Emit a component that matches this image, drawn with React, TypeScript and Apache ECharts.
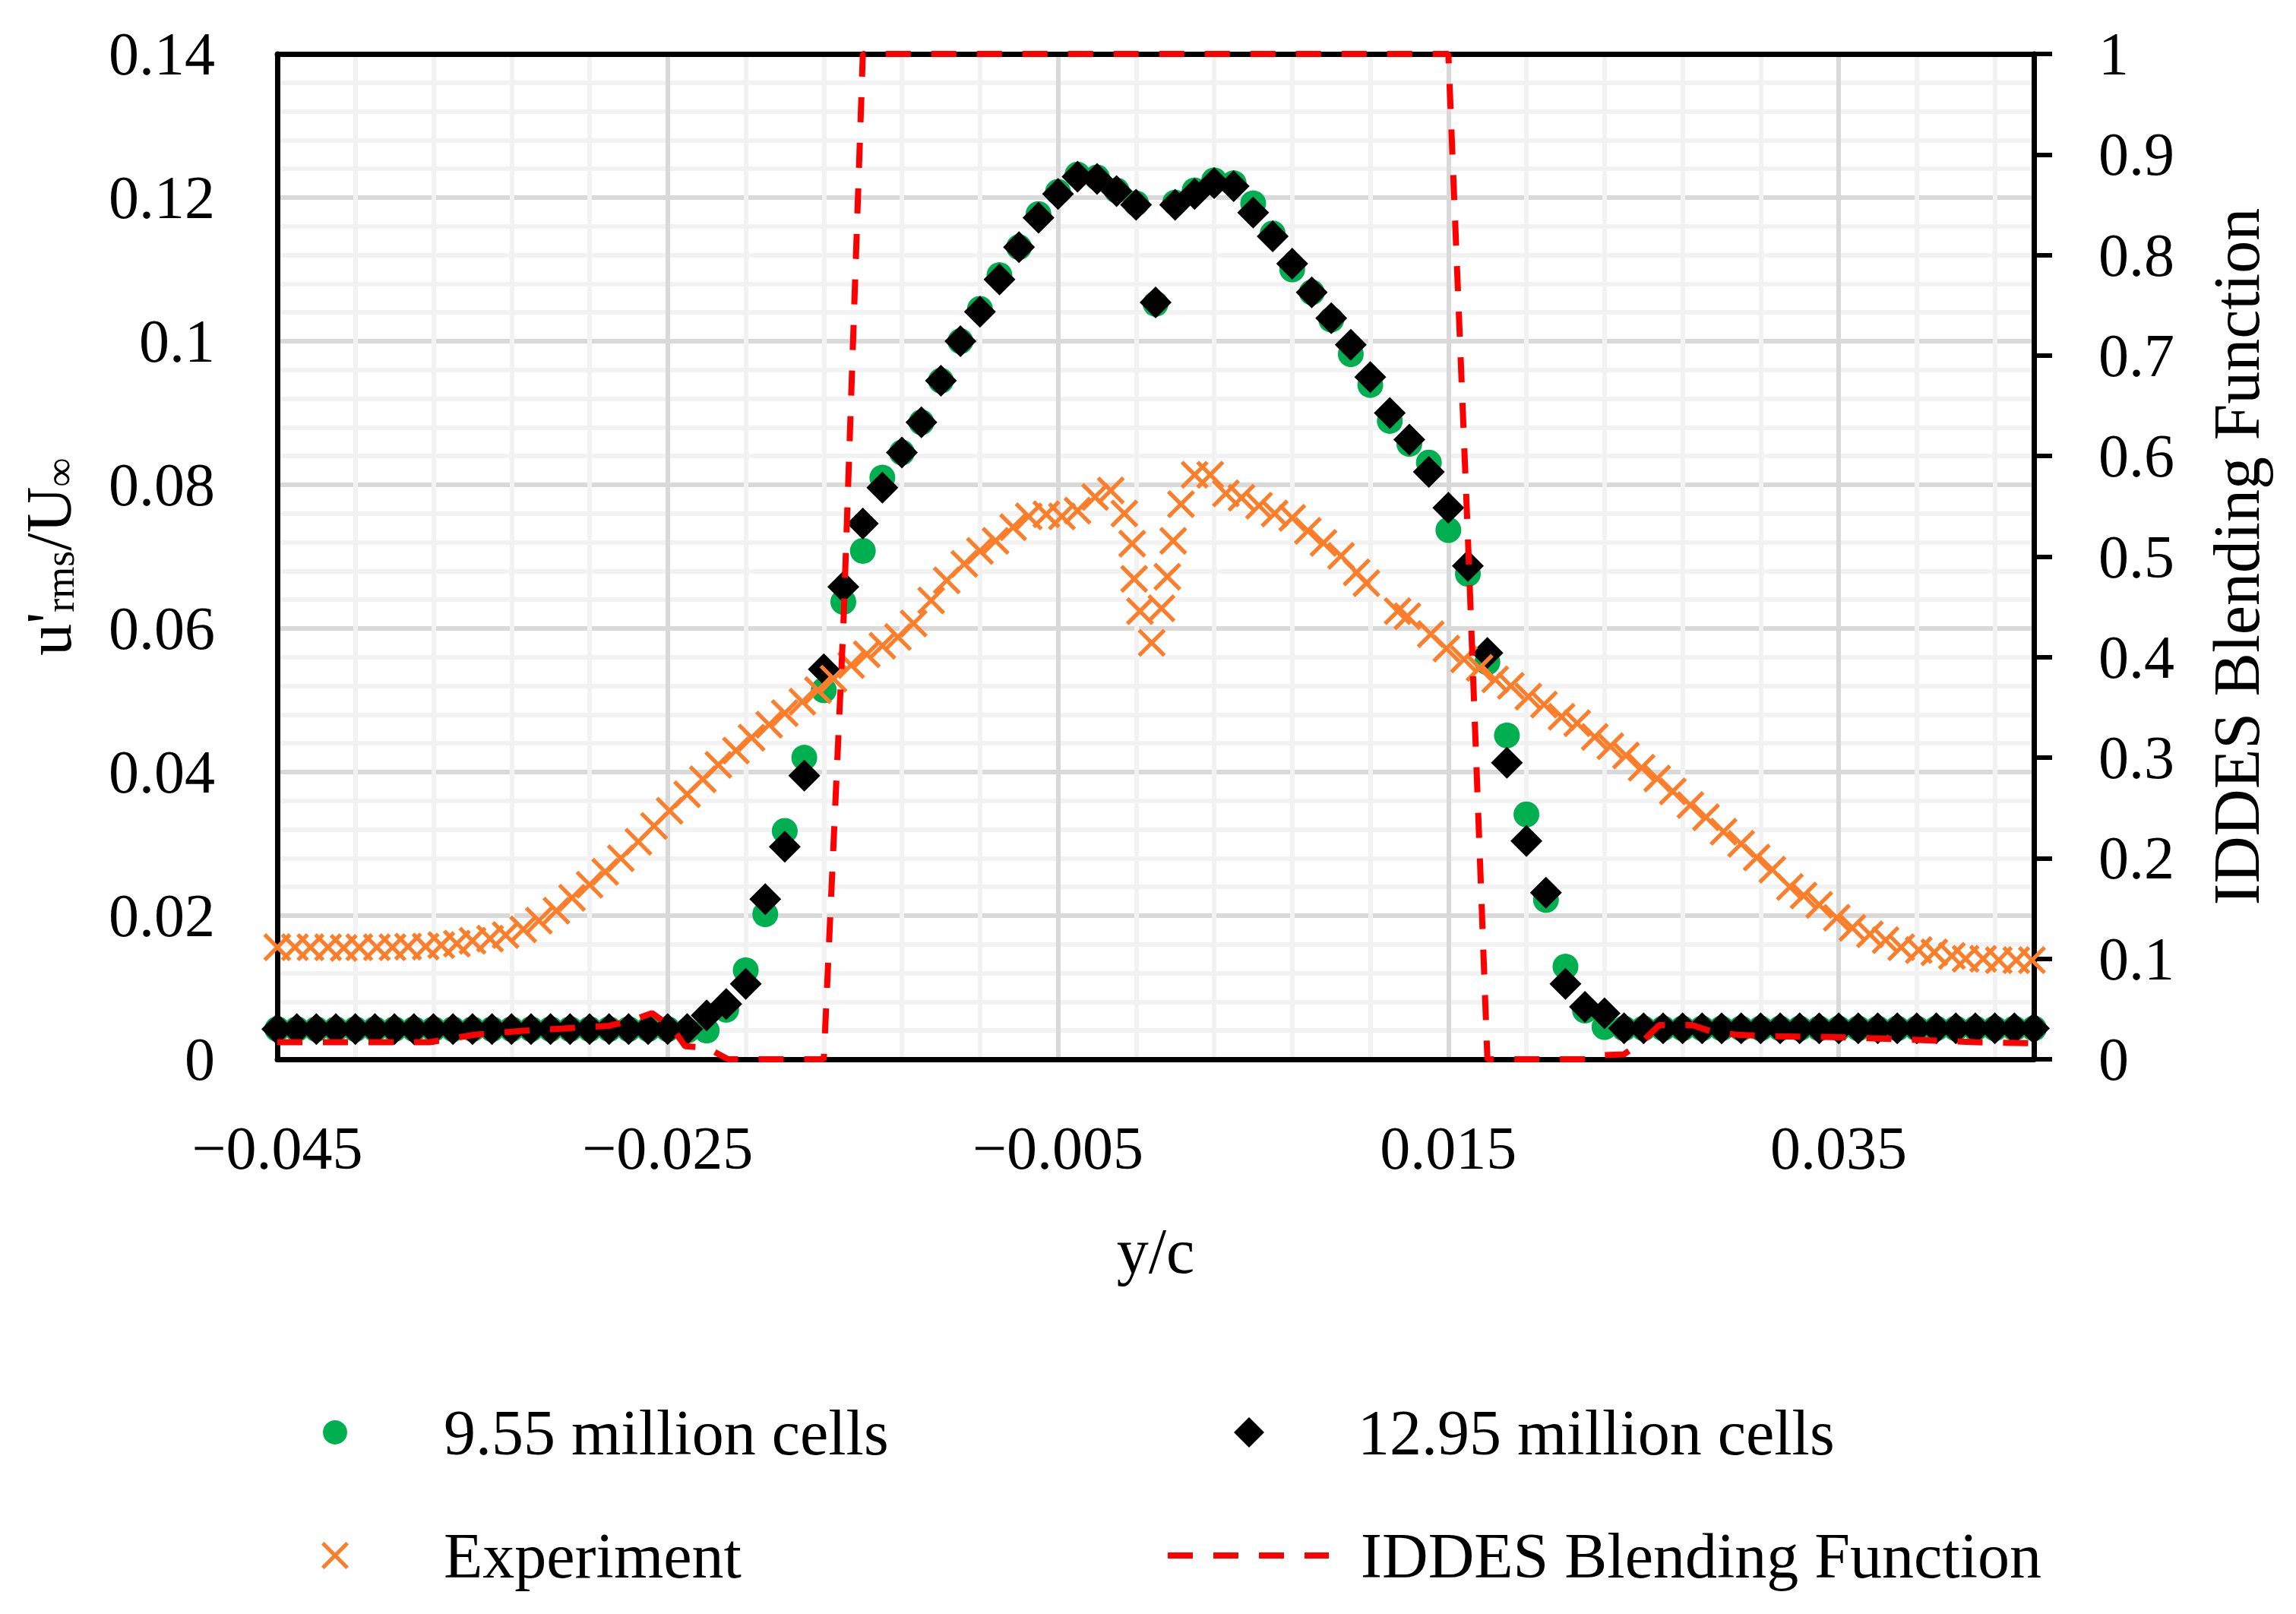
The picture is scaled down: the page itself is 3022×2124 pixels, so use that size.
import React, { useEffect, useRef } from "react";
import * as echarts from "echarts";

const FONT = '"Liberation Serif", "Times New Roman", Times, serif';

// ---- data ----
const simX = [
  -0.045, -0.044, -0.043, -0.042, -0.041, -0.04, -0.039, -0.038, -0.037, -0.036,
  -0.035, -0.034, -0.033, -0.032, -0.031, -0.03, -0.029, -0.028, -0.027, -0.026,
  -0.025, -0.024, -0.023, -0.022, -0.021, -0.02, -0.019, -0.018, -0.017, -0.016,
  -0.015, -0.014, -0.013, -0.012, -0.011, -0.01, -0.009, -0.008, -0.007, -0.006,
  -0.005, -0.004, -0.003, -0.002, -0.001, 0, 0.001, 0.002, 0.003, 0.004,
  0.005, 0.006, 0.007, 0.008, 0.009, 0.01, 0.011, 0.012, 0.013, 0.014,
  0.015, 0.016, 0.017, 0.018, 0.019, 0.02, 0.021, 0.022, 0.023, 0.024,
  0.025, 0.026, 0.027, 0.028, 0.029, 0.03, 0.031, 0.032, 0.033, 0.034,
  0.035, 0.036, 0.037, 0.038, 0.039, 0.04, 0.041, 0.042, 0.043, 0.044, 0.045,
];

const cells955 = [
  0.0042, 0.0042, 0.0042, 0.0042, 0.0042, 0.0042, 0.0042, 0.0042, 0.0042, 0.0042,
  0.0042, 0.0042, 0.0042, 0.0042, 0.0042, 0.0042, 0.0042, 0.0042, 0.0042, 0.0042,
  0.0042,
  0.004, 0.004, 0.0069, 0.0124, 0.0202, 0.0318, 0.042, 0.0514, 0.0637, 0.0708,
  0.081, 0.0845, 0.0887, 0.0945, 0.1, 0.1045, 0.1092, 0.1131, 0.1177, 0.1208,
  0.1232, 0.1228, 0.121, 0.1192, 0.1052, 0.1193, 0.121, 0.1224, 0.122, 0.1192,
  0.115, 0.11, 0.1068, 0.103, 0.0982, 0.0939, 0.0889, 0.0857, 0.0831, 0.0737,
  0.0676, 0.0553, 0.0451, 0.0341, 0.0222, 0.0129, 0.0068, 0.0045,
  0.0043, 0.0043, 0.0043, 0.0043, 0.0043, 0.0043, 0.0043, 0.0043, 0.0043, 0.0043,
  0.0043, 0.0043, 0.0043, 0.0043, 0.0043, 0.0043, 0.0043, 0.0043, 0.0043, 0.0043,
  0.0043, 0.0043,
];

const cells1295 = [
  0.0042, 0.0042, 0.0042, 0.0042, 0.0042, 0.0042, 0.0042, 0.0042, 0.0042, 0.0042,
  0.0042, 0.0042, 0.0042, 0.0042, 0.0042, 0.0042, 0.0042, 0.0042, 0.0042, 0.0042,
  0.0042,
  0.0042, 0.0061, 0.0077, 0.0105, 0.0223, 0.0296, 0.0395, 0.0543, 0.0658, 0.0746,
  0.0796, 0.0845, 0.0887, 0.0945, 0.1, 0.1041, 0.1086, 0.1131, 0.1172, 0.1205,
  0.1229, 0.1226, 0.1209, 0.119, 0.1054, 0.119, 0.1205, 0.122, 0.1216, 0.1179,
  0.1146, 0.1108, 0.1068, 0.1032, 0.0995, 0.095, 0.09, 0.0863, 0.0818, 0.0768,
  0.0687, 0.0566, 0.0413, 0.0304, 0.0232, 0.0105, 0.0073, 0.0064,
  0.0043, 0.0043, 0.0043, 0.0043, 0.0043, 0.0043, 0.0043, 0.0043, 0.0043, 0.0043,
  0.0043, 0.0043, 0.0043, 0.0043, 0.0043, 0.0043, 0.0043, 0.0043, 0.0043, 0.0043,
  0.0043, 0.0043,
];

const expX = [
  -0.045, -0.0441, -0.0433, -0.0424, -0.0416, -0.0408, -0.0399, -0.0391, -0.0383, -0.0374,
  -0.0366, -0.0358, -0.035, -0.0341, -0.0333, -0.0324, -0.0316, -0.0307, -0.0299, -0.029,
  -0.0282, -0.0274, -0.0265, -0.0257, -0.0249, -0.024, -0.0232, -0.0224, -0.0215, -0.0207,
  -0.0198, -0.019, -0.0181, -0.0173, -0.0165, -0.0156, -0.0148, -0.014, -0.0132, -0.0124,
  -0.0115, -0.0107, -0.0098, -0.009, -0.0082, -0.0073, -0.0065, -0.0056, -0.0048, -0.004,
  -0.0031, -0.0023, -0.0016, -0.0012, -0.0011, -0.0008, -0.0002, 0.0003, 0.0006, 0.0009,
  0.0013, 0.002, 0.0028, 0.0036, 0.0044, 0.0053, 0.0061, 0.007, 0.0078, 0.0086,
  0.0095, 0.0103, 0.0108, 0.0124, 0.0129, 0.0141, 0.0149, 0.0158, 0.0166, 0.0174,
  0.0182, 0.0191, 0.0199, 0.0208, 0.0216, 0.0225, 0.0233, 0.0241, 0.0249, 0.0257,
  0.0265, 0.0274, 0.0282, 0.0291, 0.03, 0.0308, 0.0316, 0.0325, 0.0332, 0.034,
  0.0349, 0.0357, 0.0366, 0.0374, 0.0382, 0.0391, 0.0399, 0.0408, 0.0415, 0.0424,
  0.0432, 0.0441, 0.0449,
];

const expY = [
  0.0156, 0.0156, 0.0156, 0.0156, 0.0155, 0.0156, 0.0156, 0.0156, 0.0157, 0.0157,
  0.0159, 0.0161, 0.0165, 0.0168, 0.0173, 0.0181, 0.0193, 0.0207, 0.0225, 0.0243,
  0.0261, 0.028, 0.0303, 0.0325, 0.0346, 0.0369, 0.039, 0.041, 0.043, 0.0448,
  0.0466, 0.0482, 0.0498, 0.0514, 0.053, 0.0549, 0.0564, 0.0576, 0.0588, 0.0607,
  0.0639, 0.0667, 0.069, 0.0708, 0.0722, 0.0741, 0.0756, 0.0759, 0.0756, 0.0764,
  0.0783, 0.0792, 0.076, 0.0718, 0.0669, 0.0624, 0.058, 0.0628, 0.0672, 0.0722,
  0.0773, 0.0814, 0.0814, 0.0788, 0.0782, 0.0771, 0.076, 0.0754, 0.0736, 0.0719,
  0.0701, 0.0678, 0.0663, 0.0624, 0.0617, 0.0592, 0.0572, 0.0557, 0.0545, 0.0529,
  0.052, 0.0505, 0.0494, 0.0477, 0.0468, 0.0449, 0.0436, 0.0423, 0.0406, 0.0391,
  0.0373, 0.0354, 0.0337, 0.0317, 0.03, 0.0281, 0.0264, 0.024, 0.0228, 0.0215,
  0.0197, 0.0183, 0.0174, 0.0166, 0.0156, 0.0152, 0.0149, 0.0144, 0.014, 0.014,
  0.0138, 0.0138, 0.0138,
];

const blendX = [
  -0.045, -0.0372, -0.0349, -0.0325, -0.0303, -0.028, -0.0268, -0.0258, -0.0248, -0.0241,
  -0.023, -0.0219, -0.017, -0.016, -0.015, 0.015, 0.016, 0.017, 0.022, 0.0227,
  0.024, 0.0249, 0.0258, 0.0275, 0.0285, 0.0297, 0.0315, 0.035, 0.038, 0.042, 0.045,
];
const blendY = [
  0.017, 0.017, 0.0244, 0.0282, 0.0307, 0.0333, 0.039, 0.046, 0.032, 0.013,
  0.0116, 0, 0, 0.43, 1, 1, 0.52, 0, 0, 0.004,
  0.005, 0.017, 0.034, 0.034, 0.0275, 0.0245, 0.023, 0.022, 0.02, 0.017, 0.016,
];

const majorXTicks = [-0.045, -0.025, -0.005, 0.015, 0.035];

const NAMES = ["9.55 million cells", "12.95 million cells", "Experiment", "IDDES Blending Function"];

const GREEN = "#00b050";
const ORANGE = "#fd7e2a";
const RED = "#ff0000";
const MAJOR = "#d9d9d9";
const MINOR = "#f2f2f2";
const NONE = "rgba(0,0,0,0)";
const DASH = [33, 27];

const X_PATH =
  "path://M0,10L10,0L50,40L90,0L100,10L60,50L100,90L90,100L50,60L10,100L0,90L40,50Z";

const formatX = (v: number) => {
  const hit = majorXTicks.find((t) => Math.abs(t - v) < 1e-7);
  if (hit === undefined) return "";
  return (hit < 0 ? "\u2212" : "") + Math.abs(hit).toFixed(3);
};

export default function App() {
  const ref = useRef<HTMLDivElement>(null);

  useEffect(() => {
    document.body.style.margin = "0";
    document.body.style.overflow = "hidden";
    const chart = echarts.init(ref.current as HTMLDivElement, null, { renderer: "svg" });

    // vertical grid colours cycle per 0.001 tick: major every 0.02, minor every 0.004
    const xGridColors: string[] = [];
    for (let k = 0; k < 20; k++) xGridColors.push(k === 0 ? MAJOR : k % 4 === 0 ? MINOR : NONE);

    const txt = { fontFamily: FONT, color: "#000" };
    const legendBase = {
      orient: "horizontal",
      padding: 0,
      itemGap: 0,
      selectedMode: false,
    };
    const legText = (pad: number) => ({ ...txt, fontSize: 84, lineHeight: 84, padding: [0, 0, 0, pad] });

    const option: any = {
      animation: false,
      backgroundColor: "#ffffff",
      textStyle: { fontFamily: FONT },
      grid: { left: 365, right: 345, top: 71, bottom: 730, containLabel: false },
      xAxis: [
        {
          type: "value",
          position: "bottom",
          min: -0.045,
          max: 0.045,
          interval: 0.001,
          axisLine: { show: true, onZero: false, lineStyle: { color: "#000", width: 7 } },
          axisTick: { show: false },
          axisLabel: { ...txt, fontSize: 80, margin: 77, formatter: formatX },
          splitLine: { show: true, lineStyle: { color: xGridColors, width: 6 } },
          name: "y/c",
          nameLocation: "middle",
          nameGap: 210,
          nameTextStyle: { ...txt, fontSize: 84, lineHeight: 84 },
        },
        {
          type: "value",
          position: "top",
          min: -0.045,
          max: 0.045,
          axisLine: { show: true, onZero: false, lineStyle: { color: "#000", width: 7 } },
          axisTick: { show: false },
          axisLabel: { show: false },
          splitLine: { show: false },
        },
      ],
      yAxis: [
        {
          type: "value",
          position: "left",
          min: 0,
          max: 0.14,
          interval: 0.02,
          axisLine: { show: true, onZero: false, lineStyle: { color: "#000", width: 7 } },
          axisTick: { show: false },
          axisLabel: { ...txt, fontSize: 80, margin: 82 },
          splitLine: { show: true, lineStyle: { color: MAJOR, width: 6 } },
          minorTick: { show: false, splitNumber: 5 },
          minorSplitLine: { show: true, lineStyle: { color: MINOR, width: 6 } },
          name: "{m|u'}{s|rms}{m|/U}{s|\u221e}",
          nameLocation: "middle",
          nameGap: 259,
          nameTextStyle: {
            ...txt,
            fontSize: 84,
            lineHeight: 84,
            rich: {
              m: { ...txt, fontSize: 84, lineHeight: 84 },
              s: { ...txt, fontSize: 54, lineHeight: 30, verticalAlign: "bottom" },
            },
          },
        },
        {
          type: "value",
          position: "right",
          min: 0,
          max: 1,
          interval: 0.1,
          axisLine: { show: true, onZero: false, lineStyle: { color: "#000", width: 7 } },
          axisTick: { show: true, inside: false, length: 24, lineStyle: { color: "#000", width: 6 } },
          axisLabel: { ...txt, fontSize: 80, margin: 85 },
          splitLine: { show: false },
          name: "IDDES Blending Function",
          nameLocation: "middle",
          nameGap: 224,
          nameTextStyle: { ...txt, fontSize: 86, lineHeight: 86 },
        },
      ],
      legend: [
        { ...legendBase, data: [NAMES[0]], left: 425, top: 1843, itemWidth: 32, itemHeight: 32, textStyle: legText(122) },
        { ...legendBase, data: [NAMES[1]], left: 1624, top: 1843, itemWidth: 40, itemHeight: 40, textStyle: legText(118) },
        { ...legendBase, data: [NAMES[2]], left: 423, top: 2005, itemWidth: 36, itemHeight: 36, textStyle: legText(120) },
        {
          ...legendBase,
          data: [NAMES[3]],
          left: 1533,
          top: 2005,
          itemWidth: 212,
          itemHeight: 20,
          itemStyle: { color: NONE, borderColor: NONE, borderWidth: 0, opacity: 0 },
          lineStyle: { color: RED, width: 8, type: DASH },
          textStyle: legText(37),
        },
      ],
      series: [
        {
          name: NAMES[0],
          type: "scatter",
          symbol: "circle",
          symbolSize: 34,
          itemStyle: { color: GREEN, opacity: 1 },
          clip: false,
          data: simX.map((x, i) => [x, cells955[i]]),
        },
        {
          name: NAMES[1],
          type: "scatter",
          symbol: "diamond",
          symbolSize: 42,
          itemStyle: { color: "#000000", opacity: 1 },
          clip: false,
          data: simX.map((x, i) => [x, cells1295[i]]),
        },
        {
          name: NAMES[2],
          type: "scatter",
          symbol: X_PATH,
          symbolSize: 37,
          itemStyle: { color: ORANGE, opacity: 1 },
          clip: false,
          data: expX.map((x, i) => [x, expY[i]]),
        },
        {
          name: NAMES[3],
          type: "line",
          yAxisIndex: 1,
          symbol: "none",
          showSymbol: false,
          clip: false,
          itemStyle: { color: RED },
          lineStyle: { color: RED, width: 8, type: DASH },
          data: blendX.map((x, i) => [x, blendY[i]]),
        },
      ],
    };

    chart.setOption(option);
    return () => chart.dispose();
  }, []);

  return <div ref={ref} style={{ width: 3022, height: 2124, background: "#fff" }} />;
}
